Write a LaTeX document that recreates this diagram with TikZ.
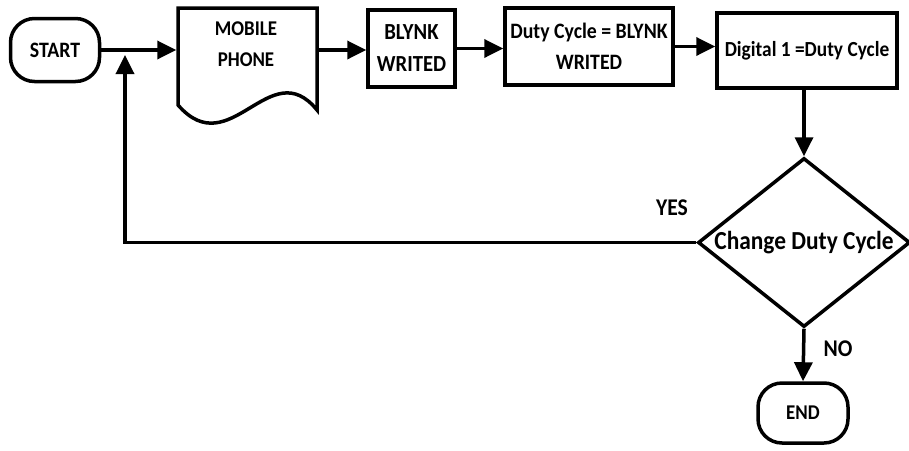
\documentclass[tikz,border=0pt]{standalone}
\usepackage{fontspec}
\setmainfont{Carlito}[FakeStretch=0.9]
\usetikzlibrary{arrows.meta,shapes.geometric}
\begin{document}
\begin{tikzpicture}[x=1pt,y=-1pt,
  line width=3.5pt,
  every node/.style={font=\bfseries\fontsize{22}{31}\selectfont},
  box/.style={draw,rectangle,align=center,inner sep=0pt},
  term/.style={draw,rectangle,rounded corners=24pt,inner sep=0pt},
  lbl/.style={inner sep=0pt,font=\bfseries\fontsize{24}{30}\selectfont},
  arr/.style={-{Triangle[length=19pt,width=18pt]}}]
\useasboundingbox (0,0) rectangle (909,450);
% nodes
\node[term,minimum width=89pt,minimum height=63pt] (start) at (55,50) {START};
\node[inner sep=0pt,minimum width=139pt,minimum height=84pt] (mob) at (247.5,50) {};
\draw (178,8) -- (317,8) -- (317,110) .. controls (270,52) and (230,165) .. (178,105) -- cycle;
\node[align=center,inner sep=0pt,font=\bfseries\fontsize{21}{31}\selectfont] (mobt) at (246,44) {MOBILE\\PHONE};
\node[box,minimum width=87pt,minimum height=77pt,font=\bfseries\fontsize{23}{32}\selectfont] (bly) at (411.5,48.5) {BLYNK\\WRITED};
\node[box,minimum width=168pt,minimum height=77pt] (duty) at (589,46.5) {Duty Cycle = BLYNK\\WRITED};
\node[box,minimum width=180pt,minimum height=75pt,font=\bfseries\fontsize{21.5}{31}\selectfont] (dig) at (807,50.5) {Digital 1 =Duty Cycle};
\node[draw,diamond,aspect=1.25,inner sep=0pt,minimum width=212pt,minimum height=169pt,font=\bfseries\fontsize{26}{31}\selectfont] (dec) at (804,242.5) {Change Duty Cycle};
\node[term,minimum width=90pt,minimum height=60pt,font=\bfseries\fontsize{21}{31}\selectfont] (end) at (803,413) {END};
\node[lbl] (yes) at (672,208) {YES};
\node[lbl] (no) at (838,349) {NO};
\coordinate (retend) at (125,55);
% connectors
\draw[arr] (start.east) -- (mob.west);
\draw[arr] (mob.east) -- (mob.east -| bly.west);
\draw[arr] (bly.east) -- (bly.east -| duty.west);
\draw[arr] (duty.east) -- (duty.east -| dig.west);
\draw[arr] (dig.south -| dec.north) -- (dec.north);
\draw[arr] (dec.west) -| (retend);
\draw[arr] (dec.south) -- (end.north);
\end{tikzpicture}
\end{document}
